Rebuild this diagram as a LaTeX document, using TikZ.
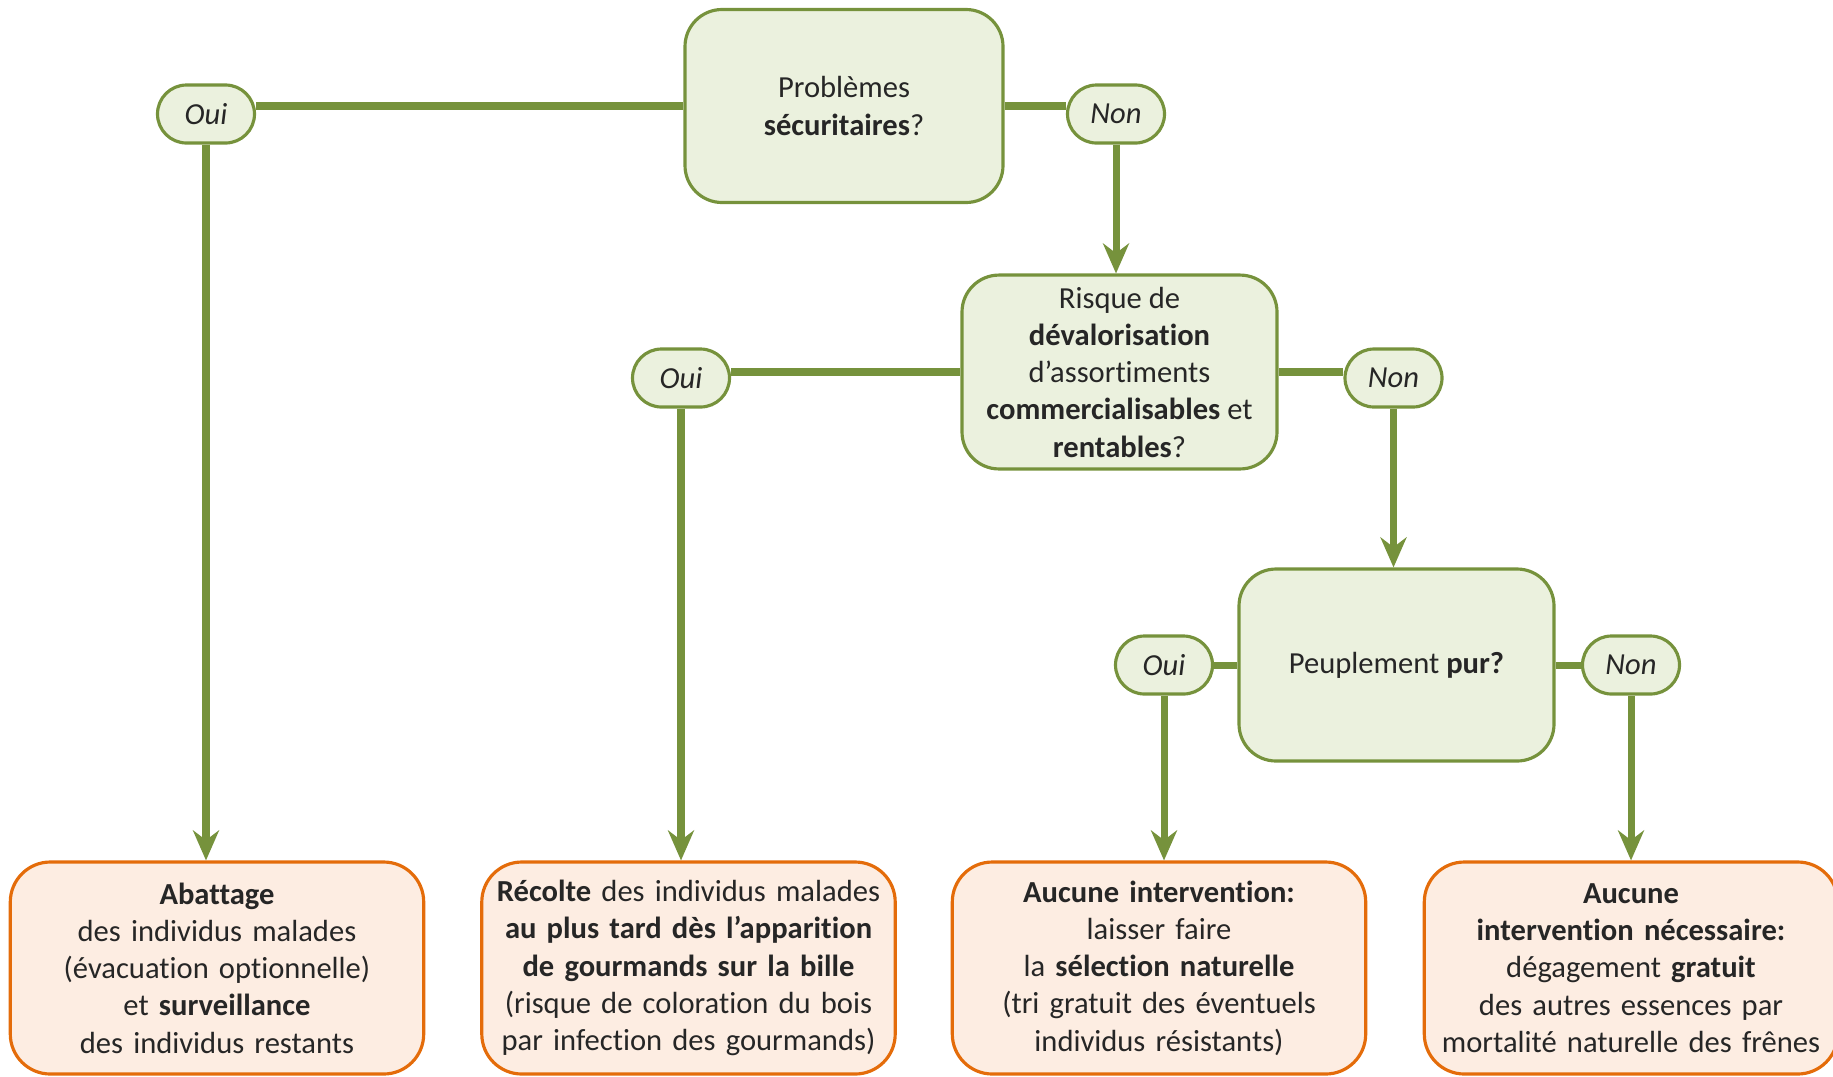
\documentclass[tikz,border=0pt]{standalone}
\usepackage{fontspec}
\setmainfont{Carlito}[Ligatures={NoCommon}]
\usetikzlibrary{arrows.meta}
\usetikzlibrary{positioning}

\definecolor{qgreen}{HTML}{76923C}
\definecolor{qfill}{HTML}{EBF1DE}
\definecolor{rorange}{HTML}{E46C0A}
\definecolor{rfill}{HTML}{FDEDE2}
\definecolor{ink}{HTML}{262626}

\tikzset{
  question/.style={draw=qgreen, fill=qfill, line width=0.9pt, rounded corners=0.37cm,
    minimum width=3.15cm, minimum height=1.93cm, align=center, text=ink,
    font=\fontsize{8.7}{10.6}\selectfont},
  answer/.style={draw=qgreen, fill=qfill, line width=0.9pt, rounded corners=0.29cm,
    minimum width=0.97cm, minimum height=0.58cm, inner sep=0pt, text=ink,
    font=\fontsize{8.7}{10.6}\selectfont\itshape},
  result/.style={draw=rorange, fill=rfill, line width=0.9pt, rounded corners=0.4cm,
    minimum width=4.1cm, minimum height=2.12cm, text width=3.9cm, align=center, text=ink,
    font=\fontsize{8.7}{10.6}\selectfont},
  link/.style={draw=qgreen, line width=2pt},
  flow/.style={link, -{Stealth[length=3mm, width=2.6mm]}}
}

\begin{document}
\begin{tikzpicture}[on grid, node distance=4.715cm]
			\useasboundingbox (0,0) rectangle (18.33,-10.76);
			% questions
			\node[question, minimum width=3.18cm] (secu) at (8.44,-1.06) {Problèmes\\\textbf{sécuritaires}?};
			\node[question] (deval) [below right=2.66cm and 2.755cm of secu] {Risque de\\\textbf{dévalorisation}\\d’assortiments\\\textbf{commercialisables} et\\\textbf{rentables}?};
			\node[question, minimum height=1.92cm] (pur) [below right=2.93cm and 2.77cm of deval] {Peuplement \textbf{pur?}};
			% answers
			\node[answer] (oui1) [left=6.38cm of secu, yshift=-0.8mm] {Oui};
			\node[answer] (non1) [right=2.72cm of secu, yshift=-0.8mm] {Non};
			\node[answer] (oui2) [left=4.385cm of deval, yshift=-0.6mm] {Oui};
			\node[answer] (non2) [right=2.74cm of deval, yshift=-0.6mm] {Non};
			\node[answer] (oui3) [left=2.325cm of pur] {Oui};
			\node[answer] (non3) [right=2.345cm of pur] {Non};
			% results
			\node[result] (abat) at (2.17,-9.68) {\textbf{Abattage}\\des individus malades\\(évacuation optionnelle)\\et \textbf{surveillance}\\des individus restants};
			\node[result] (recolte) [right=of abat] {\textbf{Récolte} des individus malades\\\textbf{au plus tard dès l’apparition}\\\textbf{de gourmands sur la bille}\\(risque de coloration du bois\\par infection des gourmands)};
			\node[result] (laisser) [right=4.705cm of recolte] {\textbf{Aucune intervention:}\\laisser faire\\la \textbf{sélection naturelle}\\(tri gratuit des éventuels\\individus résistants)};
			\node[result] (degage) [right=4.72cm of laisser] {\textbf{Aucune}\\\textbf{intervention nécessaire:}\\dégagement \textbf{gratuit}\\des autres essences par\\mortalité naturelle des frênes};
			% connectors
			\draw[link] (secu.west) -- (secu.west -| oui1.east);
			\draw[link] (secu.east) -- (secu.east -| non1.west);
			\draw[link] (deval.west) -- (deval.west -| oui2.east);
			\draw[link] (deval.east) -- (deval.east -| non2.west);
			\draw[link] (pur.west) -- (pur.west -| oui3.east);
			\draw[link] (pur.east) -- (pur.east -| non3.west);
			\draw[flow] (oui1.south) -- (oui1.south |- abat.north);
			\draw[flow] (non1.south) -- (non1.south |- deval.north);
			\draw[flow] (oui2.south) -- (oui2.south |- recolte.north);
			\draw[flow] (non2.south) -- (non2.south |- pur.north);
			\draw[flow] (oui3.south) -- (oui3.south |- laisser.north);
			\draw[flow] (non3.south) -- (non3.south |- degage.north);
		\end{tikzpicture}
\end{document}
